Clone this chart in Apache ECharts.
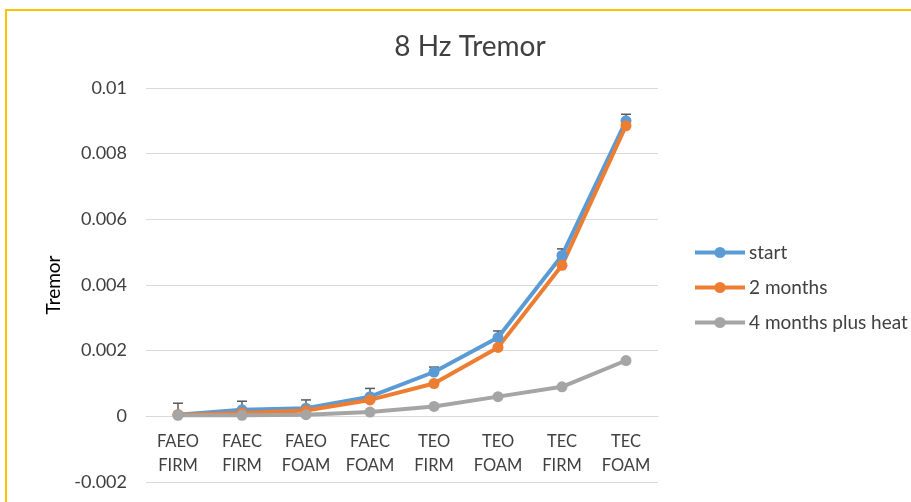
<!DOCTYPE html>
<html>
<head>
<meta charset="utf-8">
<script src="https://cdn.jsdelivr.net/npm/echarts@6/dist/echarts.min.js"></script>
<style>
html, body { margin: 0; padding: 0; background: #fff; }
#container { width: 911px; height: 502px; }
</style>
</head>
<body>
<div id="container"></div>
<script>
// 8 Hz tremor, three measurement rounds
var categories = ['FAEO\nFIRM', 'FAEC\nFIRM', 'FAEO\nFOAM', 'FAEC\nFOAM', 'TEO\nFIRM', 'TEO\nFOAM', 'TEC\nFIRM', 'TEC\nFOAM'];
var startData = [0.00005, 0.0002, 0.00025, 0.0006, 0.00135, 0.0024, 0.0049, 0.0090];
var twoMonths = [0.00005, 0.0001, 0.00018, 0.0005, 0.0010, 0.0021, 0.0046, 0.00885];
var fourMonthsHeat = [0.00003, 0.00003, 0.00005, 0.00013, 0.0003, 0.0006, 0.0009, 0.0017];
// error bar (plus) on the "start" series
var startErr = [0.00035, 0.00026, 0.00025, 0.00025, 0.00015, 0.0002, 0.0002, 0.0002];
var yTicks = { min: -0.002, max: 0.01, interval: 0.002 };

var dom = document.getElementById('container');
var myChart = echarts.init(dom);
var font = 'Lato, "Open Sans", sans-serif';

var errData = startData.map(function(v, i) {
	return [i, v, startErr[i]];
});

var gridTop = 88, gridHeight = 394;
// the category axis sits on y = 0 (onZero does not move it here, so shift by offset)
var zeroOffset = -gridHeight * (0 - yTicks.min) / (yTicks.max - yTicks.min);

var option = {
	animation: false,
	textStyle: { fontFamily: font },
	title: {
		text: '8 Hz Tremor',
		left: 465,
		textAlign: 'center',
		top: 28,
		textStyle: { fontFamily: font, fontWeight: 'normal', fontSize: 28, color: '#404040' }
	},
	legend: {
		orient: 'vertical',
		left: 688,
		top: 238,
		itemWidth: 50,
		itemHeight: 14,
		itemGap: 16,
		data: ['start', '2 months', '4 months plus heat'],
		lineStyle: { width: 4 },
		textStyle: { fontFamily: font, fontSize: 19, color: '#404040', padding: [0, 0, 0, -1] }
	},
	grid: {
		left: 146,
		top: gridTop,
		width: 512,
		height: gridHeight,
		outerBoundsMode: 'none',
		containLabel: false
	},
	xAxis: {
		type: 'category',
		data: categories,
		boundaryGap: true,
		offset: zeroOffset,
		axisLine: { onZero: false, lineStyle: { color: '#d9d9d9', width: 1 } },
		axisTick: { show: false },
		axisLabel: { interval: 0, color: '#404040', fontSize: 16.5, lineHeight: 24, margin: 13, fontFamily: font }
	},
	yAxis: {
		type: 'value',
		min: yTicks.min,
		max: yTicks.max,
		interval: yTicks.interval,
		name: 'Tremor',
		nameLocation: 'middle',
		nameGap: 82,
		nameRotate: 90,
		nameTextStyle: { color: '#000', fontSize: 19, fontFamily: font },
		axisLine: { show: false },
		axisTick: { show: false },
		splitLine: { lineStyle: { color: '#d9d9d9', width: 1 } },
		axisLabel: { color: '#404040', fontSize: 18, margin: 19, fontFamily: font }
	},
	series: [{
			name: 'start',
			type: 'line',
			data: startData,
			symbol: 'circle',
			symbolSize: 11,
			lineStyle: { width: 4, color: '#5B9BD5' },
			itemStyle: { color: '#5B9BD5' }
		},
		{
			name: 'errbar',
			type: 'custom',
			data: errData,
			z: 3,
			silent: true,
			renderItem: function(params, api) {
				var x = api.value(0);
				var lo = api.coord([x, api.value(1)]);
				var hi = api.coord([x, api.value(1) + api.value(2)]);
				var style = { stroke: '#595959', lineWidth: 1.5 };
				return {
					type: 'group',
					children: [{
						type: 'line',
						shape: { x1: hi[0], y1: hi[1], x2: lo[0], y2: lo[1] },
						style: style
					}, {
						type: 'line',
						shape: { x1: hi[0] - 5, y1: hi[1], x2: hi[0] + 5, y2: hi[1] },
						style: style
					}]
				};
			}
		},
		{
			name: '2 months',
			type: 'line',
			data: twoMonths,
			symbol: 'circle',
			symbolSize: 11,
			lineStyle: { width: 4, color: '#ED7D31' },
			itemStyle: { color: '#ED7D31' }
		},
		{
			name: '4 months plus heat',
			type: 'line',
			data: fourMonthsHeat,
			symbol: 'circle',
			symbolSize: 11,
			lineStyle: { width: 4, color: '#A5A5A5' },
			itemStyle: { color: '#A5A5A5' }
		}
	],
	// gold frame on left and top
	graphic: [{
		type: 'polyline',
		shape: { points: [[6, 502], [6, 10], [911, 10]] },
		style: { stroke: '#FFC000', lineWidth: 2, fill: null },
		silent: true
	}]
};
myChart.setOption(option);
</script>
</body>
</html>
